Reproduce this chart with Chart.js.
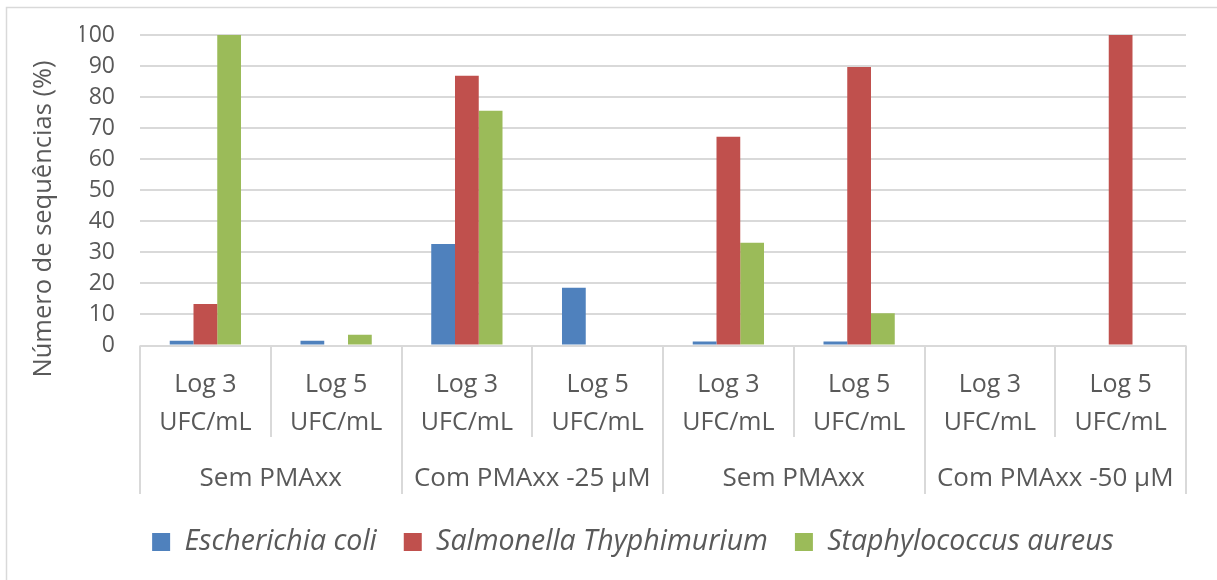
<!DOCTYPE html>
<html>
<head>
<meta charset="utf-8">
<script src="https://cdn.jsdelivr.net/npm/chart.js@4/dist/chart.umd.min.js"></script>
<style>
  html, body { margin: 0; padding: 0; background: #ffffff; }
  #wrap { width: 1217px; height: 580px; position: relative; }
</style>
</head>
<body>
<div id="wrap"><canvas id="chart" width="1217" height="580"></canvas></div>
<script>
// Sub-categories (bacterial load) and the treatment each pair belongs to
const concentrations = [
  ['Log 3', 'UFC/mL'], ['Log 5', 'UFC/mL'],
  ['Log 3', 'UFC/mL'], ['Log 5', 'UFC/mL'],
  ['Log 3', 'UFC/mL'], ['Log 5', 'UFC/mL'],
  ['Log 3', 'UFC/mL'], ['Log 5', 'UFC/mL']
];
const treatments = ['Sem PMAxx', 'Com PMAxx -25 µM', 'Sem PMAxx', 'Com PMAxx -50 µM'];

// Percentage of sequences per organism
const seriesNames = ['Escherichia coli', 'Salmonella Thyphimurium', 'Staphylococcus aureus'];
const escherichiaColi = [1.5, 1.5, 32.7, 18.6, 1.3, 1.3, 0, 0];
const salmonellaTyphimurium = [13.4, 0, 86.9, 0, 67.2, 89.7, 0, 100];
const staphylococcusAureus = [100, 3.5, 75.6, 0, 33.1, 10.4, 0, 0];

const yAxisTitle = 'Número de sequências (%)';
const yMin = 0, yMax = 100, yStep = 10;

const TEXT = '#595959';
const LINE = '#d9d9d9';
const FONT = "'Open Sans', sans-serif";
const PAD_LEFT = 80;   // wide left padding keeps the legend centred under the plot

// Frame, category separators, treatment labels and the y-axis title
const decorations = {
  id: 'decorations',
  beforeDraw(chart) {
    const ctx = chart.ctx;
    ctx.save();
    ctx.fillStyle = '#ffffff';
    ctx.fillRect(0, 0, chart.width, chart.height);
    ctx.strokeStyle = LINE;
    ctx.lineWidth = 1.5;
    ctx.beginPath();
    ctx.moveTo(6.5, chart.height + 2);
    ctx.lineTo(6.5, 7.5);
    ctx.lineTo(chart.width + 2, 7.5);
    ctx.stroke();
    ctx.restore();
  },
  afterDraw(chart) {
    const ctx = chart.ctx;
    const x = chart.scales.x;
    const base = chart.scales.y.getPixelForValue(0);
    const n = concentrations.length;
    ctx.save();
    ctx.strokeStyle = LINE;
    ctx.lineWidth = 2;
    for (let k = 0; k <= n; k++) {
      const px = Math.round(x.getPixelForValue(k - 0.5));
      const bottom = (k % 2 === 0) ? 494 : 437;
      ctx.beginPath();
      ctx.moveTo(px, base);
      ctx.lineTo(px, bottom);
      ctx.stroke();
    }
    ctx.fillStyle = TEXT;
    ctx.font = '26px ' + FONT;
    ctx.textAlign = 'center';
    ctx.textBaseline = 'middle';
    treatments.forEach((t, g) => {
      const a = x.getPixelForValue(2 * g - 0.5);
      const b = x.getPixelForValue(2 * g + 1.5);
      ctx.fillText(t, (a + b) / 2, 479);
    });
    ctx.translate(44, 219);
    ctx.rotate(-Math.PI / 2);
    ctx.font = '25.5px ' + FONT;
    ctx.fillText(yAxisTitle, 0, 0);
    ctx.restore();
  }
};

new Chart(document.getElementById('chart'), {
  type: 'bar',
  data: {
    labels: concentrations,
    datasets: [
      { label: seriesNames[0], data: escherichiaColi, backgroundColor: '#4f81bd' },
      { label: seriesNames[1], data: salmonellaTyphimurium, backgroundColor: '#c0504d' },
      { label: seriesNames[2], data: staphylococcusAureus, backgroundColor: '#9bbb59' }
    ]
  },
  options: {
    responsive: false,
    devicePixelRatio: 1,
    animation: false,
    layout: { padding: { left: PAD_LEFT, top: 35, right: 31, bottom: 13.75 } },
    datasets: { bar: { categoryPercentage: 0.545, barPercentage: 1, borderWidth: 0 } },
    plugins: {
      tooltip: { enabled: false },
      legend: {
        position: 'bottom',
        labels: {
          color: TEXT,
          font: { family: FONT, size: 28.5, style: 'italic' },
          boxWidth: 18,
          boxHeight: 18,
          padding: 27
        }
      }
    },
    scales: {
      x: {
        type: 'category',
        offset: true,
        grid: { display: false, drawTicks: false },
        border: { display: false },
        ticks: {
          color: TEXT,
          font: { family: FONT, size: 25, lineHeight: 1.52 },
          padding: 20,
          autoSkip: false,
          maxRotation: 0,
          minRotation: 0
        },
        afterFit(s) { s.height = 155.25; }
      },
      y: {
        min: yMin,
        max: yMax,
        grid: { color: LINE, lineWidth: 2, drawTicks: false },
        border: { display: false },
        ticks: {
          stepSize: yStep,
          color: TEXT,
          font: { family: FONT, size: 23 },
          padding: 25
        },
        afterFit(s) {
          s.width = 140 - PAD_LEFT;
          // the plot edges are set by the layout padding alone
          s.paddingTop = 0;
          s.paddingBottom = 0;
        }
      }
    }
  },
  plugins: [decorations]
});
</script>
</body>
</html>
